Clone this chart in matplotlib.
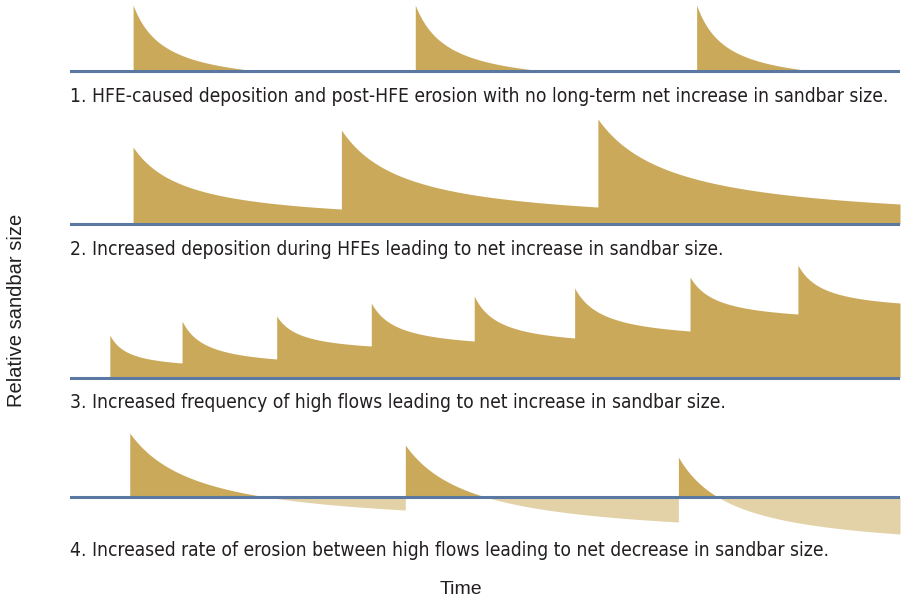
import numpy as np
import matplotlib
matplotlib.use("Agg")
import matplotlib.pyplot as plt

# colours
GOLD = "#caaa5a"
LIGHT = "#e3d2a8"
BLUE = "#5a78a2"

# time runs 0..100 across each strip, sizes in relative units (baseline = 0)
# panel 1: each HFE builds the bar, which erodes back to zero before the next one
p1_events = [7.6, 41.6, 75.5]
p1_peaks = [6.6, 6.6, 6.6]
p1_decay = [15.0, 15.5, 14.0]

# panel 2: bigger deposition each time, small net gain
p2_events = [7.6, 32.7, 63.6]
p2_peaks = [7.7, 9.4, 10.5]
p2_ends = [1.5, 1.7, 2.0]

# panel 3: frequent high flows
p3_events = [4.8, 13.5, 24.9, 36.3, 48.7, 60.8, 74.7, 87.7]
p3_peaks = [4.3, 5.7, 6.2, 7.5, 8.2, 9.0, 10.1, 11.3]
p3_ends = [1.5, 1.9, 3.2, 3.7, 4.0, 4.7, 6.4, 7.5]

# panel 4: faster erosion, net loss
p4_events = [7.2, 40.4, 73.3]
p4_peaks = [6.4, 5.2, 4.0]
p4_ends = [-1.3, -2.5, -3.7]

captions = [
    "1. HFE-caused deposition and post-HFE erosion with no long-term net increase in sandbar size.",
    "2. Increased deposition during HFEs leading to net increase in sandbar size.",
    "3. Increased frequency of high flows leading to net increase in sandbar size.",
    "4. Increased rate of erosion between high flows leading to net decrease in sandbar size.",
]

A = 0.25  # shape of the schematic erosion curves (hyperbolic decay)


def decay(t0, t1, peak, end, n=200):
    s = np.linspace(0, 1, n)
    lo = A / (1 + A)
    f = (A / (s + A) - lo) / (1 - lo)
    return t0 + s * (t1 - t0), end + (peak - end) * f


def build(events, peaks, ends=None, lengths=None):
    ts, hs = [0.0], [0.0]
    for i, (t0, pk) in enumerate(zip(events, peaks)):
        t_next = events[i + 1] if i + 1 < len(events) else 100.0
        if lengths is not None:
            t, h = decay(t0, t0 + lengths[i], pk, 0.0)
            t = np.append(t, t_next)
            h = np.append(h, 0.0)
        else:
            t, h = decay(t0, t_next, pk, ends[i])
        ts.append(t0)
        hs.append(hs[-1])
        ts.extend(t)
        hs.extend(h)
    return np.array(ts), np.array(hs)


curves = [
    build(p1_events, p1_peaks, lengths=p1_decay),
    build(p2_events, p2_peaks, ends=p2_ends),
    build(p3_events, p3_peaks, ends=p3_ends),
    build(p4_events, p4_peaks, ends=p4_ends),
]

W, H = 909, 601
fig = plt.figure(figsize=(W / 100, H / 100), dpi=100)

baselines = [71, 224, 378, 497]   # pixel rows of the strips' zero lines
cap_rows = [97, 249, 402, 550]

cap_texts = []
for (t, h), base, cap, crow in zip(curves, baselines, captions, cap_rows):
    ax = fig.add_axes([70 / W, 1 - (base + 40) / H, 830 / W, 160 / H])
    ax.set_xlim(0, 100)
    ax.set_ylim(-4, 12)
    ax.axis("off")
    ax.fill_between(t, 0, np.maximum(h, 0), color=GOLD, lw=0)
    ax.fill_between(t, np.minimum(h, 0), 0, color=LIGHT, lw=0)
    ax.axhline(0, color=BLUE, lw=2.2, zorder=5)
    txt = fig.text(70 / W, 1 - crow / H, cap, ha="left", va="center",
                   fontsize=14, family="DejaVu Sans", fontstretch="condensed",
                   color="#231f20")
    cap_texts.append(txt)

# size captions so the longest one spans the same width as in the figure
fig.canvas.draw()
r = fig.canvas.get_renderer()
w0 = cap_texts[0].get_window_extent(r).width
scale = 825 / w0
for txt in cap_texts:
    txt.set_fontsize(14 * scale)

fig.text(17 / W, 1 - 310 / H, "Relative sandbar size", rotation=90,
         ha="center", va="center", fontsize=14.5, family="Liberation Sans",
         color="#231f20")
fig.text(461 / W, 1 - 589 / H, "Time", ha="center", va="center",
         fontsize=14, family="Liberation Sans", color="#231f20")

fig.savefig("out.png", dpi=100)
